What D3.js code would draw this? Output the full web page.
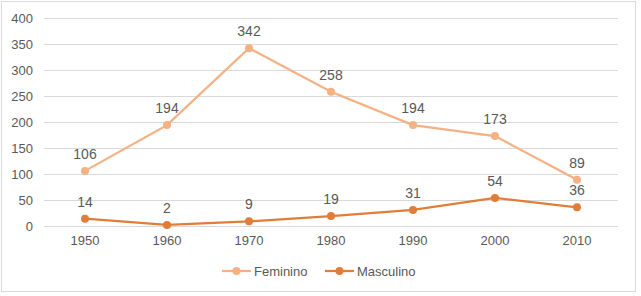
<!DOCTYPE html>
<html>
<head>
<meta charset="utf-8">
<style>
body { margin: 0; background: #fff; }
svg text { font-family: "Liberation Sans", Arial, sans-serif; fill: #595959; }
</style>
</head>
<body>
<svg id="chart"></svg>
<script src="https://d3js.org/d3.v7.min.js"></script>
<script>
// data
var years = ["1950", "1960", "1970", "1980", "1990", "2000", "2010"];
var feminino = [106, 194, 342, 258, 194, 173, 89];
var masculino = [14, 2, 9, 19, 31, 54, 36];
var yTicks = [0, 50, 100, 150, 200, 250, 300, 350, 400];

var series = [
  {name: "Feminino", values: feminino, color: "#F4B183"},
  {name: "Masculino", values: masculino, color: "#E07D38"}
];

var W = 641, H = 296;
var svg = d3.select("#chart").attr("width", W).attr("height", H);

// outer frame
svg.append("rect")
    .attr("x", 1.5).attr("y", 1.5)
    .attr("width", 634).attr("height", 290)
    .attr("fill", "#fff").attr("stroke", "#d9d9d9");

var x = d3.scaleBand().domain(years).range([44, 618]);
var y = d3.scaleLinear().domain([0, 400]).range([226, 18]);

// gridlines
svg.append("g").selectAll("line")
    .data(yTicks)
  .enter().append("line")
    .attr("x1", 44).attr("x2", 618)
    .attr("y1", function(d) { return Math.round(y(d)) + 0.5; })
    .attr("y2", function(d) { return Math.round(y(d)) + 0.5; })
    .attr("stroke", "#d9d9d9");

// y axis labels
var yAxis = svg.append("g")
    .attr("transform", "translate(44,0)")
    .call(d3.axisLeft(y).tickValues(yTicks).tickSize(0).tickPadding(11));
yAxis.select(".domain").remove();
yAxis.selectAll("text").style("font-size", "13px").attr("fill", "#595959");

// x axis labels
var xAxis = svg.append("g")
    .attr("transform", "translate(0,226)")
    .call(d3.axisBottom(x).tickSize(0).tickPadding(10));
xAxis.select(".domain").remove();
xAxis.selectAll("text").style("font-size", "13px").attr("fill", "#595959");

var line = d3.line()
    .x(function(d, i) { return x(years[i]) + x.bandwidth() / 2; })
    .y(function(d) { return y(d); });

series.forEach(function(s) {
  var g = svg.append("g");
  g.append("path")
      .attr("d", line(s.values))
      .attr("fill", "none")
      .attr("stroke", s.color)
      .attr("stroke-width", 2.25);
  g.selectAll("circle")
      .data(s.values)
    .enter().append("circle")
      .attr("cx", function(d, i) { return x(years[i]) + x.bandwidth() / 2; })
      .attr("cy", function(d) { return y(d); })
      .attr("r", 4)
      .attr("fill", s.color);
  g.selectAll("text")
      .data(s.values)
    .enter().append("text")
      .attr("x", function(d, i) { return x(years[i]) + x.bandwidth() / 2; })
      .attr("y", function(d) { return y(d) - 12; })
      .attr("text-anchor", "middle")
      .style("font-size", "14px")
      .text(function(d) { return d; });
});

// legend
var legend = svg.append("g").attr("transform", "translate(222,271)");
var lx = [0, 103];
series.forEach(function(s, i) {
  var item = legend.append("g").attr("transform", "translate(" + lx[i] + ",0)");
  item.append("line")
      .attr("x1", 0).attr("x2", 29)
      .attr("stroke", s.color).attr("stroke-width", 2.25);
  item.append("circle").attr("cx", 14.5).attr("r", 4).attr("fill", s.color);
  item.append("text")
      .attr("x", 32).attr("dy", "0.35em")
      .style("font-size", "13px")
      .text(s.name);
});
</script>
</body>
</html>
